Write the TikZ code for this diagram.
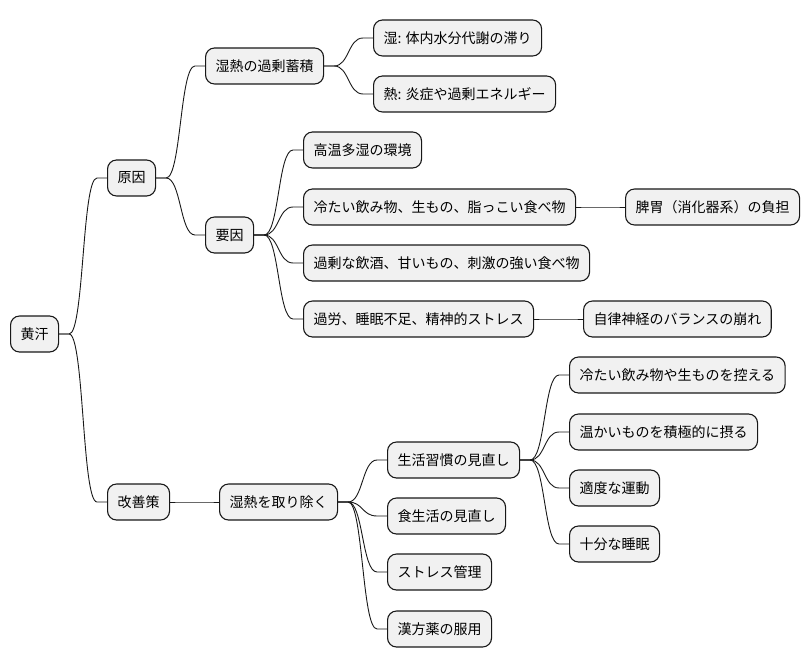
\documentclass[tikz,border=0pt]{standalone}
\usepackage{fontspec}
\setmainfont{Noto Sans CJK JP}
\definecolor{nodefill}{HTML}{F1F1F1}
\definecolor{nodeline}{HTML}{181818}
\tikzset{
  topic/.style={draw=nodeline, fill=nodefill, line width=1.1pt, rounded corners=9pt,
    anchor=west, minimum height=36pt, inner xsep=10pt, inner ysep=0pt,
    font=\fontsize{14}{16}\selectfont},
  link/.style={draw=nodeline, line width=0.9pt},
  branch/.style={to path={-- ++(10,0) .. controls +(15,0) and +(-15,0) ..
    ([xshift=-10pt]\tikztotarget) -- (\tikztotarget)}}
}

\begin{document}
\begin{tikzpicture}[x=1pt, y=-1pt]
      \useasboundingbox (0,0) rectangle (810,668);

      \draw (10, 334) node [topic] (root) {黄汗};

      \draw (107, 178) node [topic] (cause) {原因};
      \draw [link] (root.east) to [branch] (cause.west);
      \draw (205, 66) node [topic] (accum) {湿熱の過剰蓄積};
      \draw (205, 235) node [topic] (factor) {要因};
      \draw [link] (cause.east) to [branch] (accum.west);
      \draw [link] (cause.east) to [branch] (factor.west);

      \draw (373, 38) node [topic] (damp) {湿: 体内水分代謝の滞り};
      \draw (373, 94) node [topic] (heat) {熱: 炎症や過剰エネルギー};
      \draw [link] (accum.east) to [branch] (damp.west);
      \draw [link] (accum.east) to [branch] (heat.west);

      \draw (303, 150) node [topic] (humid) {高温多湿の環境};
      \draw (303, 207) node [topic] (food) {冷たい飲み物、生もの、脂っこい食べ物};
      \draw (303, 263) node [topic] (drink) {過剰な飲酒、甘いもの、刺激の強い食べ物};
      \draw (303, 319) node [topic] (strain) {過労、睡眠不足、精神的ストレス};
      \draw [link] (factor.east) to [branch] (humid.west);
      \draw [link] (factor.east) to [branch] (food.west);
      \draw [link] (factor.east) to [branch] (drink.west);
      \draw [link] (factor.east) to [branch] (strain.west);

      \draw (625, 207) node [topic] (spleen) {脾胃（消化器系）の負担};
      \draw [link] (food.east) to [branch] (spleen.west);
      \draw (583, 319) node [topic] (nerve) {自律神経のバランスの崩れ};
      \draw [link] (strain.east) to [branch] (nerve.west);

      %%%%%%%%%%%%%%%%%%%%%%%%%%%%%%%%%%%%%%%%%%%%%%%%%%%%%%%%%%%%%%
      % Remedies
      %%%%%%%%%%%%%%%%%%%%%%%%%%%%%%%%%%%%%%%%%%%%%%%%%%%%%%%%%%%%%%
      \draw (107, 502) node [topic] (remedy) {改善策};
      \draw [link] (root.east) to [branch] (remedy.west);
      \draw (219, 502) node [topic] (remove) {湿熱を取り除く};
      \draw [link] (remedy.east) to [branch] (remove.west);

      \draw (387, 460) node [topic] (habit) {生活習慣の見直し};
      \draw (387, 516) node [topic] (diet) {食生活の見直し};
      \draw (387, 572) node [topic] (manage) {ストレス管理};
      \draw (387, 629) node [topic] (kampo) {漢方薬の服用};
      \draw [link] (remove.east) to [branch] (habit.west);
      \draw [link] (remove.east) to [branch] (diet.west);
      \draw [link] (remove.east) to [branch] (manage.west);
      \draw [link] (remove.east) to [branch] (kampo.west);

      \draw (569, 375) node [topic] (avoid) {冷たい飲み物や生ものを控える};
      \draw (569, 432) node [topic] (warm) {温かいものを積極的に摂る};
      \draw (569, 488) node [topic] (exercise) {適度な運動};
      \draw (569, 544) node [topic] (sleep) {十分な睡眠};
      \draw [link] (habit.east) to [branch] (avoid.west);
      \draw [link] (habit.east) to [branch] (warm.west);
      \draw [link] (habit.east) to [branch] (exercise.west);
      \draw [link] (habit.east) to [branch] (sleep.west);
\end{tikzpicture}
\end{document}
